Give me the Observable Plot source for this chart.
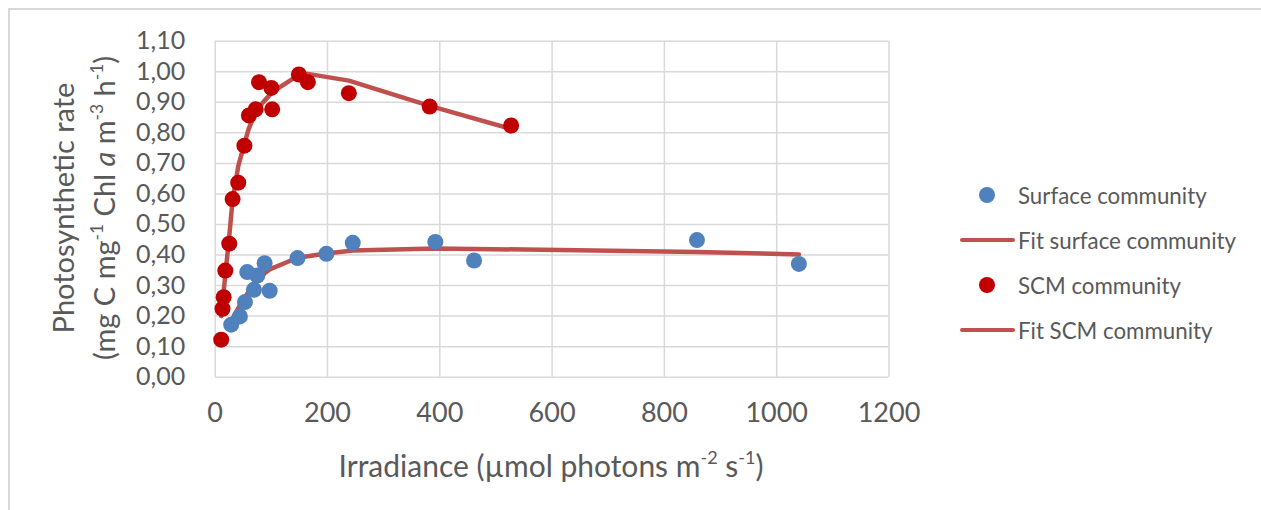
<!DOCTYPE html>
<html>
<head>
<meta charset="utf-8">
<script src="https://cdn.jsdelivr.net/npm/d3@7"></script>
<script src="https://cdn.jsdelivr.net/npm/@observablehq/plot@0.6"></script>
<style>
  html, body { margin: 0; padding: 0; background: #fff; }
  #wrap { position: relative; width: 1261px; height: 510px; overflow: hidden; font-family: Lato, "Open Sans", sans-serif; color: #595959; }
  #frame { position: absolute; left: 8px; top: 8px; width: 1300px; height: 600px; border-top: 2px solid #d9d9d9; border-left: 2px solid #d9d9d9; }
  #chart { position: absolute; left: 0; top: 0; }
  .ytitle { position: absolute; white-space: nowrap; font-size: 29px; transform: translate(-50%, -50%) rotate(-90deg); }
  .xtitle { position: absolute; white-space: nowrap; font-size: 30px; transform: translate(-50%, -50%); }
  sup { font-size: 0.6em; line-height: 0; position: relative; top: -0.1em; }
  .leg { position: absolute; white-space: nowrap; font-size: 22.3px; transform: translateY(-50%); }
  .legdot { position: absolute; width: 16px; height: 16px; border-radius: 50%; transform: translate(-50%, -50%); }
  .legline { position: absolute; height: 4px; border-radius: 2px; background: #C0504D; transform: translateY(-50%); }
</style>
</head>
<body>
<div id="wrap">
  <div id="frame"></div>
  <div id="chart"></div>
  <div class="ytitle" style="left:62px; top:208px;">Photosynthetic rate</div>
  <div class="ytitle" style="left:103px; top:208px;">(mg C mg<sup>-1</sup> Chl <i>a</i> m<sup>-3</sup> h<sup>-1</sup>)</div>
  <div class="xtitle" style="left:551px; top:465px;">Irradiance (µmol photons m<sup>-2</sup> s<sup>-1</sup>)</div>
  <div id="legend"></div>
</div>
<script>
// ---- Data ----
const surfaceX = [28.5, 44, 53, 57, 69, 75, 88, 97, 146.6, 198, 245, 392, 461, 858, 1039.5];
const surfaceY = [0.172, 0.199, 0.246, 0.344, 0.286, 0.333, 0.373, 0.283, 0.390, 0.404, 0.440, 0.443, 0.382, 0.449, 0.371];

const scmX = [10.7, 13, 15, 18, 25, 31, 41, 52, 60, 72, 78, 100, 101.5, 149, 165, 238, 382, 527];
const scmY = [0.123, 0.224, 0.262, 0.349, 0.437, 0.583, 0.637, 0.758, 0.857, 0.877, 0.966, 0.947, 0.877, 0.991, 0.966, 0.930, 0.886, 0.824];

const surfaceFitX = [28.5, 44, 53, 57, 69, 75, 88, 97, 146.6, 198, 245, 392, 461, 858, 1039.5];
const surfaceFitY = [0.185, 0.235, 0.262, 0.273, 0.302, 0.315, 0.340, 0.353, 0.391, 0.405, 0.415, 0.421, 0.420, 0.410, 0.402];

const scmFitX = [10.7, 13, 15, 18, 25, 31, 41, 52, 60, 72, 78, 100, 101.5, 149, 165, 238, 382, 527];
const scmFitY = [0.20, 0.24, 0.28, 0.335, 0.46, 0.58, 0.69, 0.765, 0.815, 0.865, 0.885, 0.93, 0.933, 0.99, 0.993, 0.971, 0.888, 0.813];

const xTicks = [0, 200, 400, 600, 800, 1000, 1200];
const yTicks = [0, 0.1, 0.2, 0.3, 0.4, 0.5, 0.6, 0.7, 0.8, 0.9, 1.0, 1.1];

const seriesNames = ["Surface community", "Fit surface community", "SCM community", "Fit SCM community"];

// ---- Build tables ----
const surface = surfaceX.map((x, i) => ({x, y: surfaceY[i]}));
const scm = scmX.map((x, i) => ({x, y: scmY[i]}));
const surfaceFit = surfaceFitX.map((x, i) => ({x, y: surfaceFitY[i]}));
const scmFit = scmFitX.map((x, i) => ({x, y: scmFitY[i]}));

const comma = d3.formatLocale({decimal: ",", thousands: ".", grouping: [3], currency: ["", ""]});
const yFmt = comma.format(".2f");
const xFmt = d => String(d);

const grid = "#d9d9d9";
const lineColor = "#C0504D";

const chart = Plot.plot({
  width: 1261,
  height: 510,
  marginLeft: 214.7,
  marginRight: 372.5,
  marginTop: 40.7,
  marginBottom: 133.3,
  style: {fontFamily: "Lato, 'Open Sans', sans-serif", fontSize: "27px", color: "#595959", background: "transparent", overflow: "visible"},
  x: {domain: [0, 1200]},
  y: {domain: [0, 1.1]},
  marks: [
    Plot.gridX(xTicks, {stroke: grid, strokeOpacity: 1, strokeWidth: 1.5}),
    Plot.gridY(yTicks, {stroke: grid, strokeOpacity: 1, strokeWidth: 1.5}),
    Plot.axisX(xTicks, {tickSize: 0, tickPadding: 26, label: null, tickFormat: xFmt, fontSize: 27, fill: "#595959"}),
    Plot.axisY(yTicks, {tickSize: 0, tickPadding: 30, label: null, tickFormat: yFmt, fontSize: 25, fill: "#595959"}),
    Plot.line(surfaceFit, {x: "x", y: "y", stroke: lineColor, strokeWidth: 4.5, strokeLinejoin: "round", strokeLinecap: "round"}),
    Plot.line(scmFit, {x: "x", y: "y", stroke: lineColor, strokeWidth: 4.5, strokeLinejoin: "round", strokeLinecap: "round"}),
    Plot.dot(surface, {x: "x", y: "y", r: 8, fill: "#4F81BD", stroke: "none"}),
    Plot.dot(scm, {x: "x", y: "y", r: 8, fill: "#C00000", stroke: "none"})
  ]
});
document.getElementById("chart").appendChild(chart);

// ---- Legend (HTML, right side) ----
const legend = document.getElementById("legend");
const legY = [195, 240, 285, 330];
const legKinds = ["dot-blue", "line", "dot-red", "line"];
seriesNames.forEach((name, i) => {
  const y = legY[i];
  if (legKinds[i] === "line") {
    const l = document.createElement("div");
    l.className = "legline";
    l.style.left = "960px"; l.style.top = y + "px"; l.style.width = "55px";
    legend.appendChild(l);
  } else {
    const d = document.createElement("div");
    d.className = "legdot";
    d.style.left = "987px"; d.style.top = y + "px";
    d.style.background = legKinds[i] === "dot-blue" ? "#4F81BD" : "#C00000";
    legend.appendChild(d);
  }
  const t = document.createElement("div");
  t.className = "leg";
  t.style.left = "1018px"; t.style.top = y + "px";
  t.textContent = name;
  legend.appendChild(t);
});
</script>
</body>
</html>
